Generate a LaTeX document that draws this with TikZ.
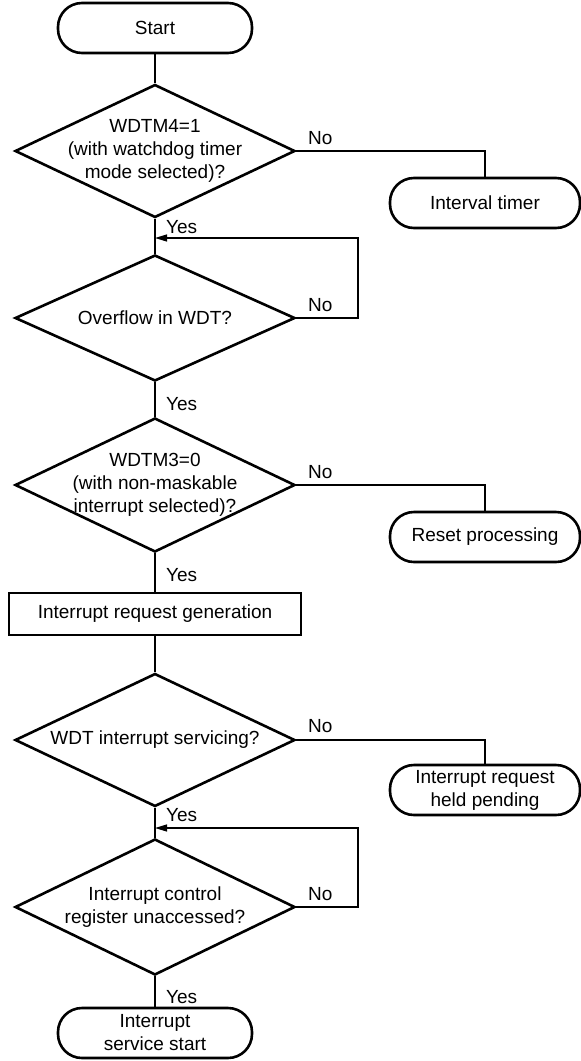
\documentclass[tikz,border=0pt]{standalone}
\usepackage{fontspec}
\setmainfont{Liberation Sans}
\usepackage{xcolor}
\usetikzlibrary{arrows.meta,shapes.geometric}
\tikzset{
  >={Triangle[length=12pt,width=7pt]},
  term/.style    ={draw,line width=2.6pt,rounded corners=24pt,
                   minimum width=194pt,minimum height=50pt,align=center,inner sep=0pt},
  sideterm/.style={term,minimum width=190pt},
  decision/.style={draw,diamond,line width=2.6pt,inner sep=0pt,
                   minimum width=280pt,minimum height=133pt},
  dtext/.style   ={align=center,inner sep=0pt},
  procbox/.style ={draw,line width=2.6pt,minimum width=292pt,minimum height=42pt,inner sep=0pt},
  lbl/.style     ={anchor=west,inner sep=0pt},
  flow/.style    ={draw,line width=1.2pt},
  loopback/.style={->,draw,line width=1.2pt},
}
\begin{document}
\begin{tikzpicture}[x=1pt,y=-1pt,font=\fontsize{19}{23}\selectfont]
\useasboundingbox (0,0) rectangle (581,1061);
%---------------- main column
\node[term] (start) at (155,28) {Start};
\node[decision] (d1) at (155,151) {};
\node[dtext] at (d1) {WDTM4=1\\(with watchdog timer\\mode selected)?};
\node[decision,minimum height=126pt] (d2) at (155,318) {};
\node[dtext] at (d2) {Overflow in WDT?};
\node[decision,minimum height=134pt] (d3) at (155,485) {};
\node[dtext] at (d3) {WDTM3=0\\(with non-maskable\\interrupt selected)?};
\node[procbox] (gen) at (155,614) {Interrupt request generation};
\node[decision] (d4) at (155,740) {};
\node[dtext] at (d4) {WDT interrupt servicing?};
\node[decision,minimum height=136pt] (d5) at (155,907) {};
\node[dtext] at (d5) {Interrupt control\\register unaccessed?};
\node[term] (svc) at (155,1033) {Interrupt\\service start};
%---------------- side exits
\node[sideterm] (itv) at (485,203) {Interval timer};
\node[sideterm] (rst) at (485,537) {Reset processing};
\node[sideterm] (pend) at (485,790) {Interrupt request\\held pending};
%---------------- connectors
\draw[flow] (start) -- (d1);
\draw[flow] (d1) -- (d2);
\draw[flow] (d2) -- (d3);
\draw[flow] (d3) -- (gen);
\draw[flow] (gen) -- (d4);
\draw[flow] (d4) -- (d5);
\draw[flow] (d5) -- (svc);
\draw[flow] (d1.east) -| (itv.north);
\draw[flow] (d3.east) -| (rst.north);
\draw[flow] (d4.east) -| (pend.north);
\coordinate (r2) at (358,238);
\coordinate (r5) at (358,828);
\draw[loopback] (d2.east) -| (r2) -- (d1.south |- r2);
\draw[loopback] (d5.east) -| (r5) -- (d4.south |- r5);
%---------------- labels
\node[lbl] (y1) at (166,227) {Yes};
\node[lbl] (n1) at (308,138) {No};
\node[lbl] (y2) at (166,404) {Yes};
\node[lbl] (n2) at (308,305) {No};
\node[lbl] (y3) at (166,575) {Yes};
\node[lbl] (n3) at (308,472) {No};
\node[lbl] (y4) at (166,815) {Yes};
\node[lbl] (n4) at (308,726) {No};
\node[lbl] (y5) at (166,997) {Yes};
\node[lbl] (n5) at (308,894) {No};
\end{tikzpicture}
\end{document}
